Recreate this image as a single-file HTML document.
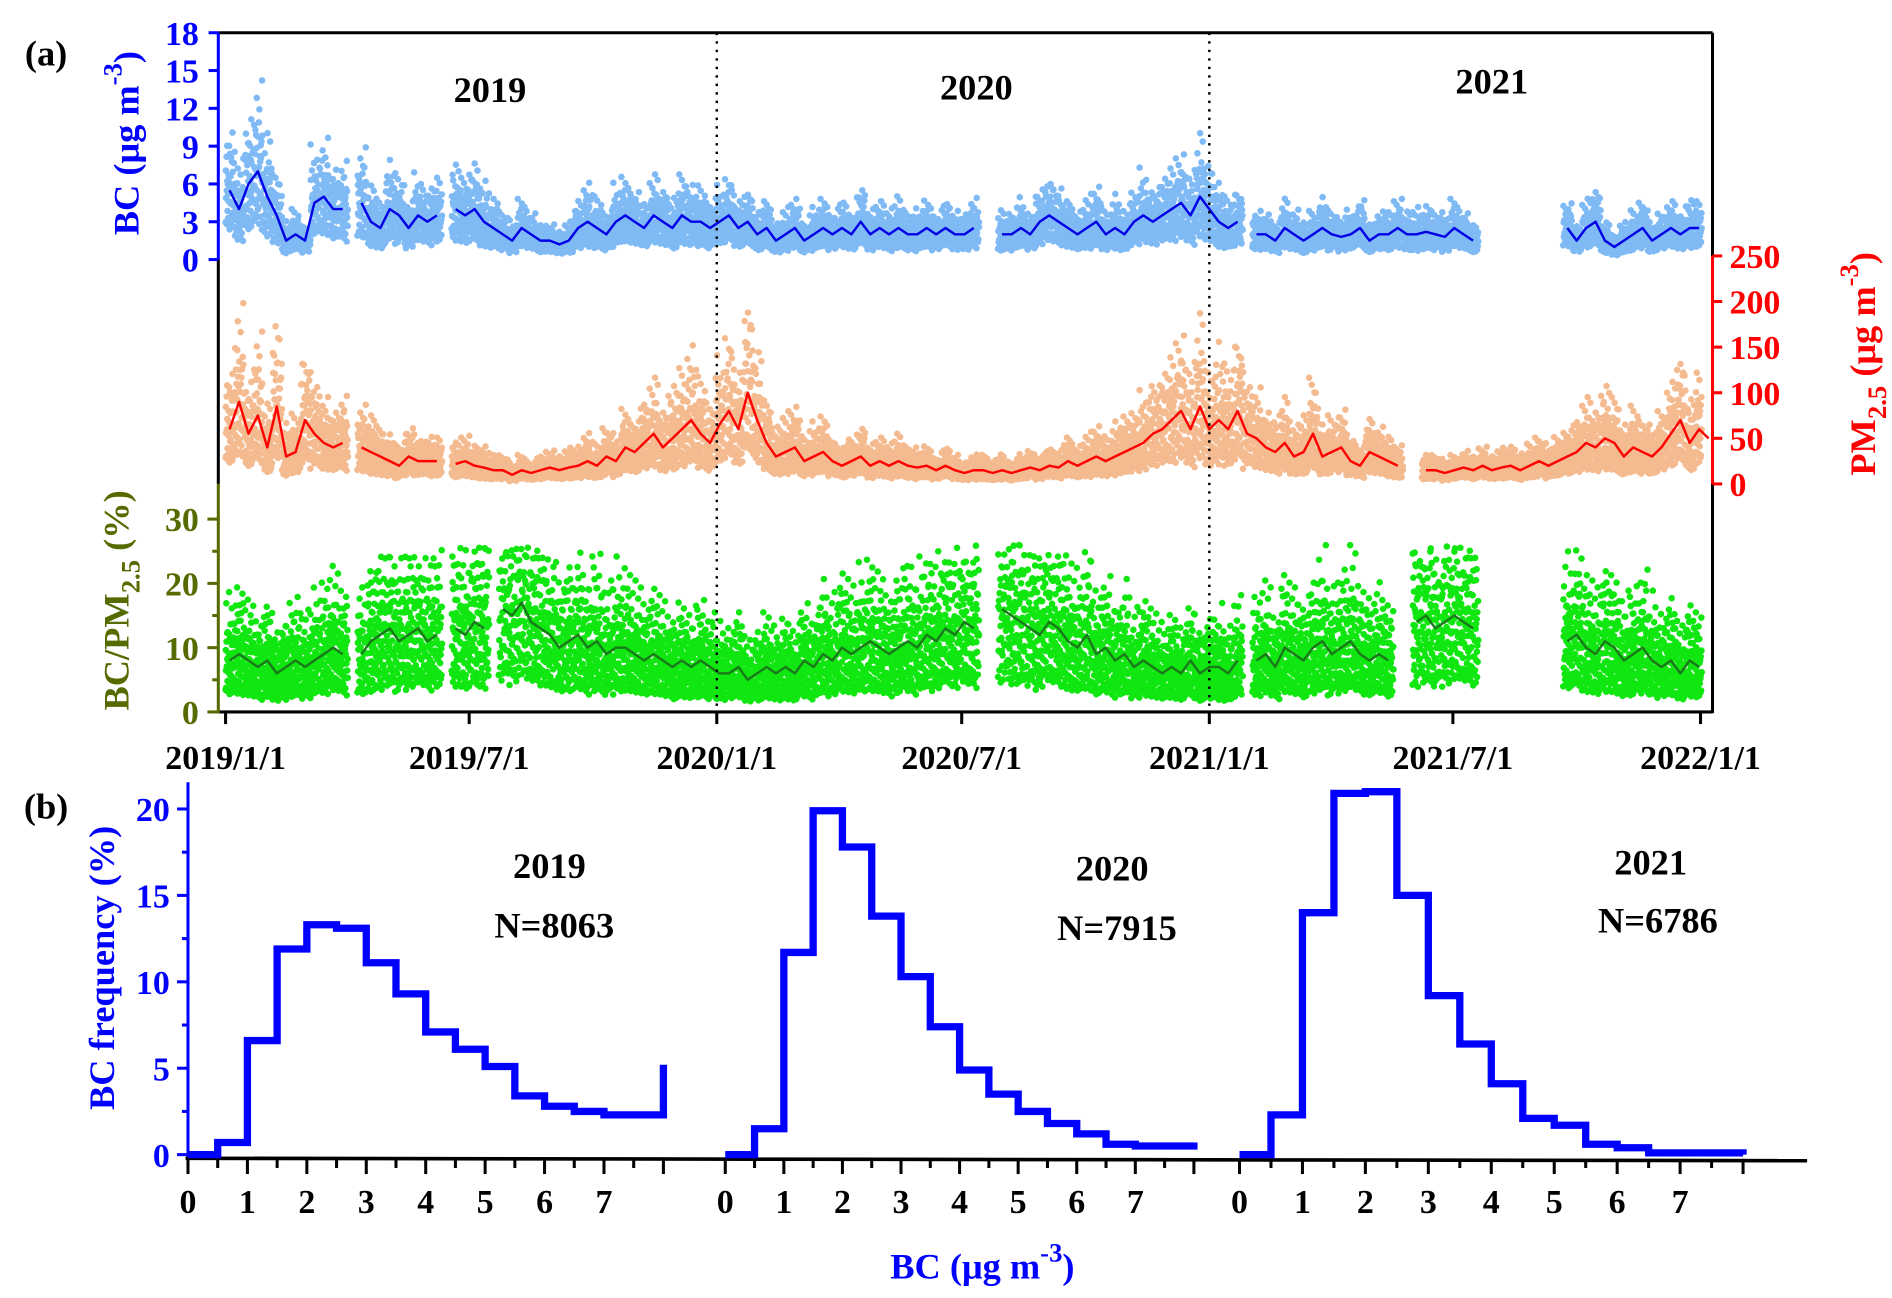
<!DOCTYPE html>
<html><head><meta charset="utf-8"><style>
html,body{margin:0;padding:0;background:#fff;}
svg{display:block;font-family:"Liberation Serif",serif;font-weight:bold;}
</style></head><body>
<svg id="c" width="1892" height="1298" viewBox="0 0 1560 1070.2" preserveAspectRatio="none" xmlns="http://www.w3.org/2000/svg"></svg>
<script>
// ---- weekly means (week i starts 2019/1/1 + 7i days) ----
const bcWeekly=[5.5,4,6,7,5,3.5,1.5,2,1.5,4.5,5,4,4,null,4.5,3,2.5,4,3.5,2.5,3.5,3,3.5,null,4,3.5,4,3,2.5,2,1.5,2.5,2,1.5,1.5,1.2,1.5,2.5,3,2.5,2,3,3.5,3,2.5,3.5,3,2.5,3.5,3,3,2.5,3,
3.5,2.5,3,2,2.5,1.5,2,2.5,1.5,2,2.5,2,2.5,2,3,2,2.5,2,2.5,2,2,2.5,2,2.5,2,2,2.5,null,null,2,2,2.5,2,3,3.5,3,2.5,2,2.5,3,2,2.5,2,3,3.5,3,3.5,4,4.5,3.5,5,4,
3,2.5,3,null,2,2,1.5,2.5,2,1.5,2,2.5,2,1.8,2,2.5,1.5,2,2,2.5,2,2,2.2,2,1.8,2.5,2,1.5,null,null,null,null,null,null,null,null,null,2.5,1.5,2.5,3,1.5,1,1.5,2,2.5,1.5,2,2.5,2,2.5,2.5];
const pmWeekly=[60,90,55,75,40,85,30,35,70,55,45,40,45,null,40,35,30,25,20,30,25,25,25,null,22,25,20,18,15,15,10,15,12,15,18,15,18,20,25,20,30,25,40,35,45,55,40,50,60,70,55,45,65,
80,60,100,70,45,30,35,40,25,30,35,25,20,25,30,20,25,20,25,20,18,20,15,20,15,12,15,15,12,15,12,15,18,15,20,18,25,20,25,30,25,30,35,40,45,55,60,70,80,60,85,60,
70,60,80,55,50,40,35,45,30,35,55,30,35,40,25,20,35,30,25,20,null,null,15,15,12,15,18,15,20,15,18,20,15,20,25,20,25,30,35,45,40,50,45,30,40,35,30,40,55,70,45,60,50];
const ratioWeekly=[8,9,8,7,8,6,7,8,7,8,9,10,9,null,9,11,12,13,11,12,13,11,12,null,13,12,14,13,null,16,15,17,14,13,12,10,11,12,10,11,9,10,10,9,8,9,8,7,8,7,8,7,6,
6,7,5,6,7,6,7,6,8,7,9,8,10,9,10,11,10,9,10,11,10,12,11,13,12,14,13,null,null,16,15,14,13,12,14,13,11,10,12,9,10,8,9,7,8,7,6,7,6,8,6,7,
7,6,8,null,8,9,7,10,9,8,10,11,9,10,11,9,8,9,8,null,null,14,15,13,14,15,14,13,null,null,null,null,null,null,null,null,null,11,12,10,9,11,10,8,9,10,8,7,8,6,8,7];
const dateLabels=["2019/1/1","2019/7/1","2020/1/1","2020/7/1","2021/1/1","2021/7/1","2022/1/1"];
const dateDays=[0,181,365,547,731,912,1096];
const bcTicks=[0,3,6,9,12,15,18];
const pmTicks=[0,50,100,150,200,250];
const ratioTicks=[0,10,20,30];
// histograms (bins of 0.5 from 0 to 8)
const hist2019=[0,0.7,6.6,11.9,13.3,13.1,11.1,9.3,7.1,6.1,5.1,3.4,2.8,2.5,2.3,2.3];
const hist2020=[0,1.5,11.7,19.9,17.8,13.8,10.3,7.4,4.9,3.5,2.5,1.8,1.2,0.6,0.5,0.5];
const hist2021=[0,2.3,14.0,20.9,21.0,15.0,9.2,6.4,4.1,2.1,1.7,0.6,0.4,0.1,0.1,0.1];
const histEnd=[5.2,0.7,0];
const histYears=["2019","2020","2021"];
const histN=["N=8063","N=7915","N=6786"];
const freqTicks=[0,5,10,15,20];

const NS="http://www.w3.org/2000/svg";
const svg=document.getElementById('c');
function mk(tag,attrs,parent){const e=document.createElementNS(NS,tag);for(const k in attrs)e.setAttribute(k,attrs[k]);(parent||svg).appendChild(e);return e;}
function txt(s,x,y,size,fill,anchor,parent){const t=mk('text',{x:x,y:y,'font-size':size,fill:fill,'text-anchor':anchor||'middle'},parent);t.textContent=s;return t;}

const X=d=>186+d*1.1096;
const yBC=v=>214-v*187/18;
const yPM=v=>399-v*188/250;
const yR=v=>587-v*159/30;

function scatter(arr,yf,mults,color,cap,name){
  let d="";const r=2.7;
  arr.forEach((v,w)=>{ if(v==null)return;
    for(let k=0;k<7;k++){const day=w*7+k; if(day>1096)break;
      const f=1+0.45*(((day*37+k*13)%11)/10-0.5);
      mults.forEach((m,j)=>{const g=((day*7+j*5)%9)/9-0.5; let val=v*m*(j%2?f:2-f)*(1+0.25*g); if(cap&&val>cap)return;
        const x=X(day+((j*3)%7)/7), y=yf(val);
        d+="M"+(x-r).toFixed(1)+" "+y.toFixed(1)+"a"+r+" "+r+" 0 1 0 "+(2*r)+" 0a"+r+" "+r+" 0 1 0 "+(-2*r)+" 0";});
    }});
  const p=mk('path',{d:d,fill:color});
  
  
}
function line(arr,yf,color,name){
  let d="",pen=false;
  arr.forEach((v,w)=>{ if(v==null){pen=false;return;} const x=X(w*7+3),y=yf(v); d+=(pen?"L":"M")+x.toFixed(1)+" "+y.toFixed(1); pen=true;});
  const p=mk('path',{d:d,fill:'none',stroke:color,'stroke-width':2,'stroke-linejoin':'round'});
  
  
}
scatter(bcWeekly,yBC,[0.5,0.7,0.9,1.1,1.3,1.55],'#7fbaf5',null,'bc-hourly-points');
scatter(pmWeekly,yPM,[0.45,0.65,0.9,1.15,1.4,1.7],'#f5bb90',null,'pm25-hourly-points');
scatter(ratioWeekly,yR,[0.4,0.6,0.8,1.0,1.2,1.45,1.8],'#10e610',26,'ratio-hourly-points');
line(bcWeekly,yBC,'#0000e6','bc-daily-line');
line(pmWeekly,yPM,'#ff0000','pm25-daily-line');
line(ratioWeekly,yR,'#1a7a1a','ratio-daily-line');

const g=mk('g',{});
mk('line',{x1:180,y1:27,x2:1412,y2:27,stroke:'#000','stroke-width':2.5},g);
mk('line',{x1:180,y1:587,x2:1412,y2:587,stroke:'#000','stroke-width':2.5},g);
mk('line',{x1:1412,y1:27,x2:1412,y2:588,stroke:'#000','stroke-width':2.5},g);
mk('line',{x1:1412,y1:211,x2:1412,y2:399,stroke:'#ff0000','stroke-width':2.5},g);
mk('line',{x1:180,y1:27,x2:180,y2:214,stroke:'#0000ff','stroke-width':2.5},g);
mk('line',{x1:180,y1:214,x2:180,y2:399,stroke:'#000','stroke-width':2.5},g);
mk('line',{x1:180,y1:399,x2:180,y2:588,stroke:'#556b00','stroke-width':2.5},g);
[365,731].forEach(d=>mk('line',{x1:X(d),y1:27,x2:X(d),y2:587,stroke:'#000','stroke-width':2,'stroke-dasharray':'2,5'},g));
bcTicks.forEach(v=>{mk('line',{x1:172,y1:yBC(v),x2:180,y2:yBC(v),stroke:'#0000ff','stroke-width':2.5},g);txt(String(v),164,yBC(v)+10,28,'#0000ff','end',g);});
pmTicks.forEach(v=>{mk('line',{x1:1412,y1:yPM(v),x2:1420,y2:yPM(v),stroke:'#ff0000','stroke-width':2.5},g);txt(String(v),1426,yPM(v)+10,28,'#ff0000','start',g);});
[0,5,10,15,20,25,30].forEach(v=>mk('line',{x1:v%10?175:171,y1:yR(v),x2:180,y2:yR(v),stroke:'#556b00','stroke-width':2.5},g));
ratioTicks.forEach(v=>txt(String(v),164,yR(v)+10,28,'#556b00','end',g));
dateDays.forEach((d,i)=>{mk('line',{x1:X(d),y1:587,x2:X(d),y2:597,stroke:'#000','stroke-width':2.5},g);txt(dateLabels[i],X(d),634,28,'#000','middle',g);});
txt("2019",404,84,30,'#000');txt("2020",805,82,30,'#000');txt("2021",1230,77,30,'#000');
txt("(a)",38,54,30,'#000');
let t=txt("",0,0,30,'#0000ff');t.setAttribute('transform','translate(114,118) rotate(-90)');t.innerHTML='BC (μg m<tspan dy="-14" font-size="22">-3</tspan><tspan dy="14">)</tspan>';
t=txt("",0,0,30,'#ff0000');t.setAttribute('transform','translate(1546,300) rotate(-90)');t.innerHTML='PM<tspan dy="9" font-size="22">2.5</tspan><tspan dy="-9"> (μg m</tspan><tspan dy="-14" font-size="22">-3</tspan><tspan dy="14">)</tspan>';
t=txt("",0,0,30,'#556b00');t.setAttribute('transform','translate(106,495) rotate(-90)');t.innerHTML='BC/PM<tspan dy="9" font-size="22">2.5</tspan><tspan dy="-9"> (%)</tspan>';

const yF=v=>952-v*285/20;
const groups=[{x0:155,s:49},{x0:598,s:48.3},{x0:1022,s:51.9}];
const hb=mk('g',{});
mk('line',{x1:155,y1:645,x2:155,y2:955,stroke:'#0000ff','stroke-width':2.5},hb);
[0,2.5,5,7.5,10,12.5,15,17.5,20].forEach(v=>mk('line',{x1:v%5?150:146,y1:yF(v),x2:155,y2:yF(v),stroke:'#0000ff','stroke-width':2.5},hb));
freqTicks.forEach(v=>txt(String(v),140,yF(v)+10,28,'#0000ff','end',hb));
mk('line',{x1:153,y1:955,x2:1490,y2:957,stroke:'#000','stroke-width':3},hb);
const hists=[hist2019,hist2020,hist2021];
hists.forEach((h,gi)=>{const G=groups[gi];const hx=v=>G.x0+v*G.s;
  for(let k=0;k<=16;k++){mk('line',{x1:hx(k/2),y1:956,x2:hx(k/2),y2:k%2?963:968,stroke:'#000','stroke-width':2.5},hb);}
  for(let k=0;k<=7;k++)txt(String(k),hx(k),1000,28,'#000','middle',hb);
  let d="M"+hx(0)+" "+yF(h[0]);
  h.forEach((v,i)=>{d+="L"+hx(i*0.5)+" "+yF(v)+"L"+hx(i*0.5+0.5)+" "+yF(v);});
  d+="L"+hx(8)+" "+yF(histEnd[gi]);
  const p=mk('path',{d:d,fill:'none',stroke:'#0000ff','stroke-width':6,'stroke-linejoin':'miter'},hb);
  
  
});
txt("2019",453,724,30,'#000','middle',hb);txt(histN[0],457,773,30,'#000','middle',hb);
txt("2020",917,726,30,'#000','middle',hb);txt(histN[1],921,775,30,'#000','middle',hb);
txt("2021",1361,721,30,'#000','middle',hb);txt(histN[2],1367,769,30,'#000','middle',hb);
txt("(b)",38,675,30,'#000','middle',hb);
t=txt("",0,0,30,'#0000ff','middle',hb);t.setAttribute('transform','translate(94,798) rotate(-90)');t.textContent='BC frequency (%)';
t=txt("",810,1054,30,'#0000ff','middle',hb);t.innerHTML='BC (μg m<tspan dy="-14" font-size="22">-3</tspan><tspan dy="14">)</tspan>';
</script>
</body></html>
